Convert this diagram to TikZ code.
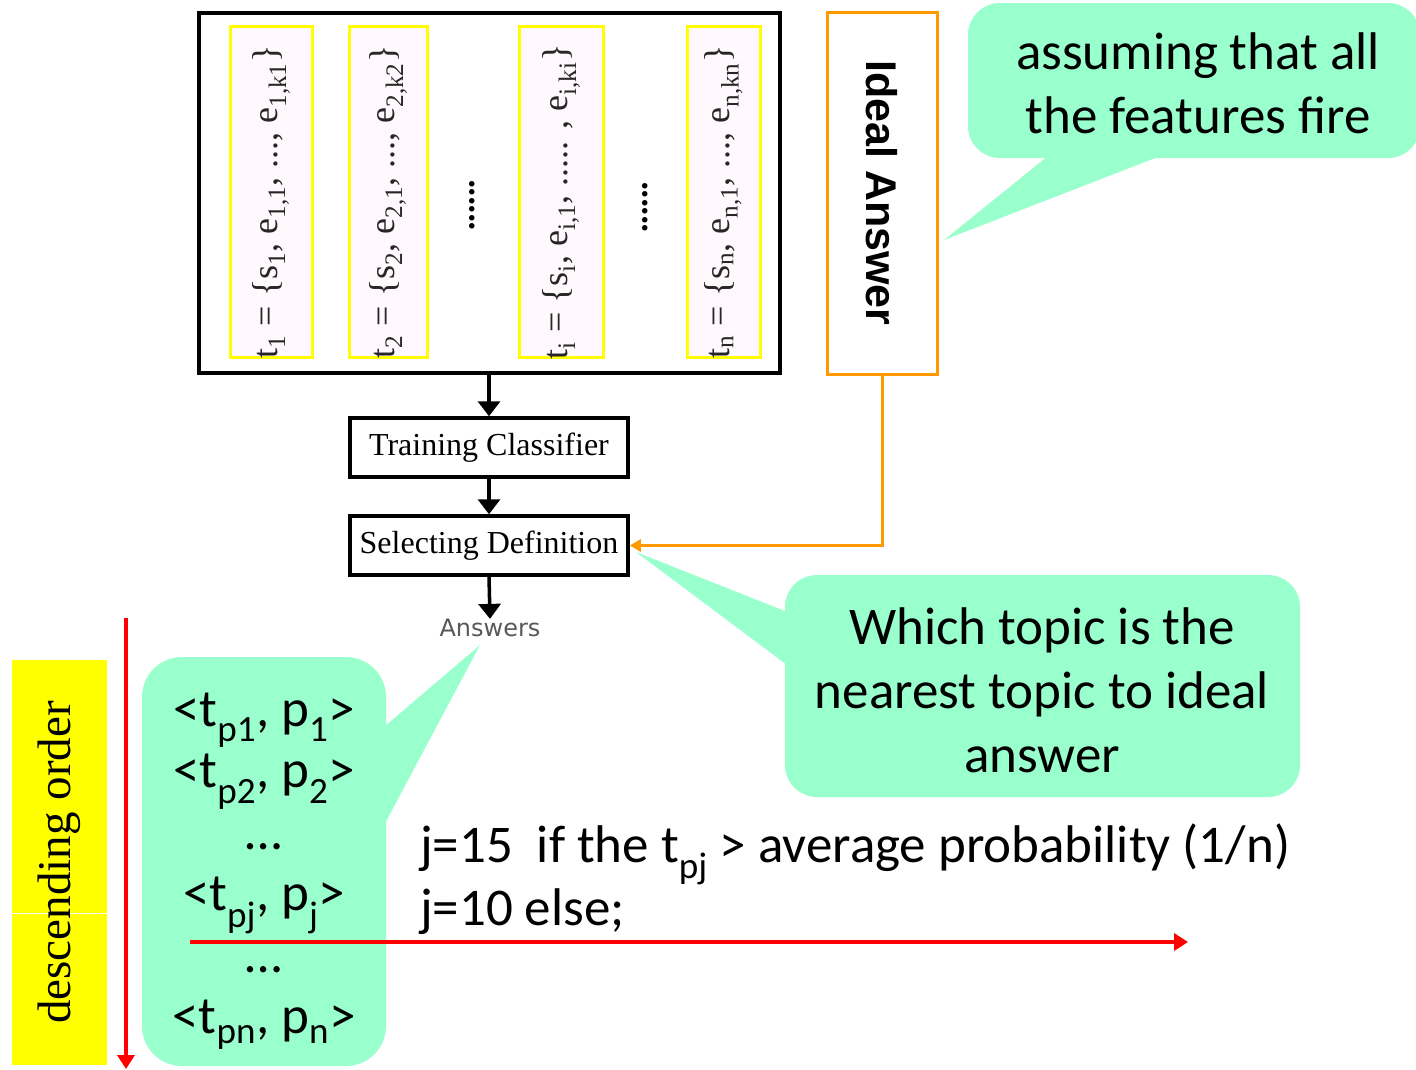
\documentclass[tikz,border=0pt]{standalone}
\usepackage{fontspec}
\setmainfont{Liberation Serif}
\newfontfamily\calfont{Carlito}
\newfontfamily\dvfont{DejaVu Sans}
\newfontfamily\arfont{Liberation Sans}
\usetikzlibrary{arrows.meta,calc}
\definecolor{mint}{HTML}{99FFCC}
\definecolor{orng}{HTML}{FF9900}
\definecolor{ylw}{HTML}{FFFF00}
\definecolor{pinkish}{HTML}{FFF8FC}
\definecolor{redc}{HTML}{FF0000}
\begin{document}
\begin{tikzpicture}[x=1pt,y=-1pt,
  blackbox/.style={draw=black, line width=3.5pt, fill=white, inner sep=0pt},
  topicbox/.style={draw=ylw, line width=3pt, fill=pinkish, inner sep=0pt, minimum height=331pt},
  topictext/.style={rotate=90, text=black!85, font=\fontsize{36}{40}\selectfont, inner sep=0pt},
  stepbox/.style={draw=black, line width=3.5pt, inner sep=0pt, minimum width=278pt, minimum height=59pt, font=\fontsize{32}{36}\selectfont},
  callout/.style={fill=mint, rounded corners=32pt, inner sep=0pt, align=center, font=\calfont\fontsize{53}{64}\selectfont},
  calltext/.style={font=\calfont\fontsize{53}{64}\selectfont, inner sep=0pt},
  blackarrow/.style={line width=3.5pt, -{Triangle[length=15pt,width=22pt]}},
  redarrow/.style={draw=redc, line width=3.5pt, -{Triangle[length=14pt,width=17pt]}},
  orangearrow/.style={draw=orng, line width=3pt, -{Triangle[length=11pt,width=12pt]}}
]
\useasboundingbox (0,0) rectangle (1416,1069);

% corpus of topics
\node[blackbox, minimum width=581pt, minimum height=360pt] (corpus) at (489.5,193) {};
\node[topicbox, minimum width=82pt] (b1) at (271,192) {};
\node[topicbox, minimum width=78pt] (b2) at (388,192) {};
\node[topicbox, minimum width=84pt] (b3) at (561,192) {};
\node[topicbox, minimum width=73pt] (b4) at (723.5,192) {};
\node[topictext] (t1) at ($(b1.center)+(0,10)$) {t\textsubscript{1} = \{s\textsubscript{1}, e\textsubscript{1,1}, ..., e\textsubscript{1,k1}\}};
\node[topictext] (t2) at ($(b2.center)+(0,10)$) {t\textsubscript{2} = \{s\textsubscript{2}, e\textsubscript{2,1}, ..., e\textsubscript{2,k2}\}};
\node[topictext] (t3) at ($(b3.center)+(0,10)$) {t\textsubscript{i} = \{s\textsubscript{i}, e\textsubscript{i,1}, ..... , e\textsubscript{i,ki}\}};
\node[topictext] (t4) at ($(b4.center)+(0,10)$) {t\textsubscript{n} = \{s\textsubscript{n}, e\textsubscript{n,1}, ..., e\textsubscript{n,kn}\}};
\node[rotate=90, inner sep=0pt, font=\bfseries\fontsize{34}{36}\selectfont] (d1) at (472,205) {......};
\node[rotate=90, inner sep=0pt, font=\bfseries\fontsize{34}{36}\selectfont] (d2) at (645,207) {......};

% pipeline
\node[stepbox] (train) at (489,447.5) {Training Classifier};
\node[stepbox] (select) at (489,545.5) {Selecting Definition};
\node[inner sep=0pt, text=black!65, font=\dvfont\fontsize{24}{28}\selectfont] (answers) at (490,628) {Answers};
\draw[blackarrow] (corpus.south -| train.north) -- (train.north);
\draw[blackarrow] (train.south) -- (select.north);
\draw[blackarrow] (select.south) -- (answers.north);

% ideal answer
\node[draw=orng, line width=3pt, inner sep=0pt, minimum width=110pt, minimum height=362pt] (ideal) at (882,193) {};
\node[rotate=-90, inner sep=0pt, font=\arfont\bfseries\fontsize{43}{48}\selectfont] (idealtext) at (ideal.center) {Ideal Answer};
\draw[orangearrow] (ideal.south) |- (select.east);

% callout 1
\coordinate (tip1) at (944,240);
\node[callout, minimum width=452pt, minimum height=155pt] (c1) at (1194,80.5) {};
\fill[mint] (tip1) -- ($(c1.south west)+(80,-2)$) -- ($(c1.south west)+(192,-2)$) -- cycle;
\node[calltext, align=center] (c1t) at (1198,83) {assuming that all\\the features fire};

% callout 2
\coordinate (tip2) at (636,552);
\node[callout, minimum width=515pt, minimum height=222pt] (c2) at (1042.5,686) {};
\fill[mint] (tip2) -- ($(c2.north west)+(2,37)$) -- ($(c2.north west)+(2,90)$) -- cycle;
\node[calltext, align=center] (c2t) at (1042,690) {Which topic is the\\nearest topic to ideal\\answer};

% callout 3
\coordinate (tip3) at (480,645);
\node[callout, minimum width=244pt, minimum height=409pt, rounded corners=40pt] (c3) at (264,861.5) {};
\fill[mint] (tip3) -- ($(c3.north east)+(-2,70)$) -- ($(c3.north east)+(-2,168)$) -- cycle;
\node[calltext, align=center, font=\calfont\fontsize{53}{61.5}\selectfont] (c3t) at (264,871) {<t\textsubscript{p1}, p\textsubscript{1}>\\<t\textsubscript{p2}, p\textsubscript{2}>\\…\\<t\textsubscript{pj}, p\textsubscript{j}>\\…\\<t\textsubscript{pn}, p\textsubscript{n}>};

% descending order
\node[fill=ylw, inner sep=0pt, minimum width=95pt, minimum height=405pt] (desc) at (59.5,862.5) {};
\draw[white, line width=1pt] (desc.west |- 0,913) -- (desc.east |- 0,913);
\node[rotate=90, inner sep=0pt, font=\fontsize{47}{50}\selectfont] (desctext) at (desc.center) {descending order};
\coordinate (vtop) at (126,618);
\coordinate (vbot) at (126,1069);
\draw[redarrow] (vtop) -- (vbot);

% threshold text
\node[calltext, anchor=base west] (rule1) at (420,862) {j=15\ \ if the t\textsubscript{pj} > average probability (1/n)};
\node[calltext, anchor=base west] (rule2) at (420,925) {j=10 else;};
\coordinate (hstart) at (190,942);
\coordinate (hend) at (1188,942);
\draw[redarrow] (hstart) -- (hend);
\end{tikzpicture}
\end{document}
